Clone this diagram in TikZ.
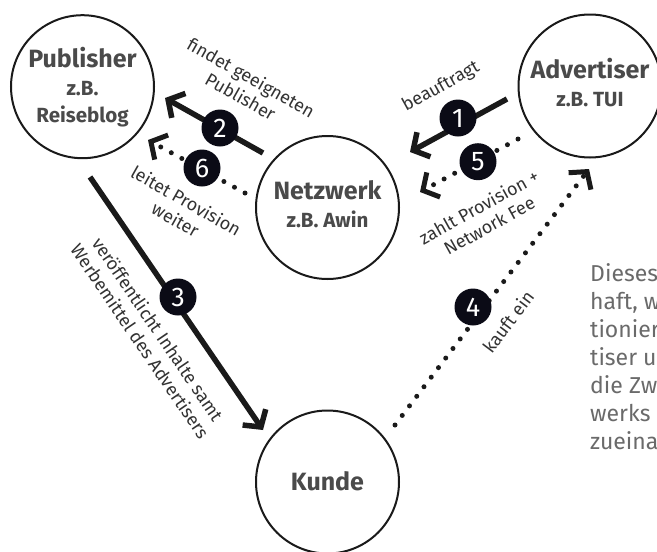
\documentclass[tikz,border=0pt]{standalone}
\usepackage{fontspec}
\setmainfont{Fira Sans}
\usetikzlibrary{arrows.meta}
\definecolor{ink}{HTML}{1A1A1A}
\definecolor{badgefill}{HTML}{0B0B16}
\definecolor{nametxt}{HTML}{4A4A4A}
\definecolor{labeltxt}{HTML}{333333}
\definecolor{paratxt}{HTML}{6A6A6A}
\begin{document}
\begin{tikzpicture}[x=1pt,y=-1pt,
  party/.style={circle, draw=ink, line width=2pt, minimum size=143pt, inner sep=0pt},
  nametext/.style={align=center, text=nametxt, font=\fontsize{20.5}{27.5}\selectfont\bfseries, inner sep=0pt},
  solidarrow/.style={draw=ink, line width=5.5pt, -{Straight Barb[length=12pt,width=28pt]}},
  dotarrow/.style={draw=ink, line width=5pt, line cap=round, dash pattern=on 0pt off 12pt, -{Straight Barb[length=12pt,width=28pt]}},
  numbadge/.style={circle, fill=badgefill, minimum size=37pt, inner sep=0pt, text=white, font=\fontsize{27}{27}\selectfont},
  flowlabel/.style={align=center, text=labeltxt, font=\fontsize{18}{21.5}\selectfont, inner sep=0pt},
  paraline/.style={anchor=base west, text=paratxt, font=\fontsize{23}{28}\selectfont, inner sep=0pt}
]
\useasboundingbox (0,0) rectangle (657,552);
\fill[white] (0,0) rectangle (657,552);

% parties
\node[party] (pub) at (82.5,86.7) {};
\node[party] (adv) at (590,86) {};
\node[party] (net) at (327.5,207.5) {};
\node[party] (kun) at (327.5,482) {};

\node[nametext] (pubname) at (82.5,87.4) {{\fontsize{25}{27.5}\selectfont Publisher}\\z.B.\\Reiseblog};
\node[nametext] (advname) at (590,82.5) {{\fontsize{25}{27.5}\selectfont Advertiser}\\z.B. TUI};
\node[nametext] (netname) at (327.5,204.4) {{\fontsize{25}{27.5}\selectfont Netzwerk}\\z.B. Awin};
\node[nametext] (kunname) at (327.5,481) {{\fontsize{25}{27.5}\selectfont Kunde}};

% connector end points
\coordinate (a2s) at (263,153); \coordinate (a2e) at (165,98);
\coordinate (a6s) at (245,193); \coordinate (a6e) at (148,140);
\coordinate (a1s) at (507,99);  \coordinate (a1e) at (410,152);
\coordinate (a5s) at (518,139); \coordinate (a5e) at (420,192);
\coordinate (a3s) at (90,177);  \coordinate (a3e) at (263,430);
\coordinate (a4s) at (395,425); \coordinate (a4e) at (589,169);

\draw[solidarrow] (a1s) -- (a1e);
\draw[solidarrow] (a2s) -- (a2e);
\draw[solidarrow] (a3s) -- (a3e);
\draw[dotarrow] (a4s) -- (a4e);
\draw[dotarrow] (a5s) -- (a5e);
\draw[dotarrow] (a6s) -- (a6e);

% badges
\node[numbadge] (b1) at (458,118) {1};
\node[numbadge] (b2) at (220,128) {2};
\node[numbadge] (b3) at (178,297) {3};
\node[numbadge] (b4) at (473,307) {4};
\node[numbadge] (b5) at (478,161.7) {5};
\node[numbadge] (b6) at (202,168) {6};

% labels
\node[flowlabel, rotate=-29.5] (l2) at (246,87) {findet geeigneten\\Publisher};
\node[flowlabel, rotate=29] (l1) at (441,87) {beauftragt};
\node[flowlabel, rotate=-29.5] (l6) at (181,210) {leitet Provision\\weiter};
\node[flowlabel, rotate=29] (l5) at (484,216) {zahlt Provision +\\Network Fee};
\node[flowlabel, rotate=-55.7] (l3) at (149,335) {veröffentlicht Inhalte samt\\Werbemittel des Advertisers};
\node[flowlabel, rotate=53] (l4) at (508,322) {kauft ein};

% clipped paragraph at the right
\node[paraline] (p1) at (590,281) {Dieses};
\node[paraline] (p2) at (590,309) {haft, w};
\node[paraline] (p3) at (590,337) {tionier};
\node[paraline] (p4) at (590,365) {tiser u};
\node[paraline] (p5) at (590,393) {die Zw};
\node[paraline] (p6) at (590,421) {werks};
\node[paraline] (p7) at (590,449) {zueina};
\end{tikzpicture}
\end{document}
